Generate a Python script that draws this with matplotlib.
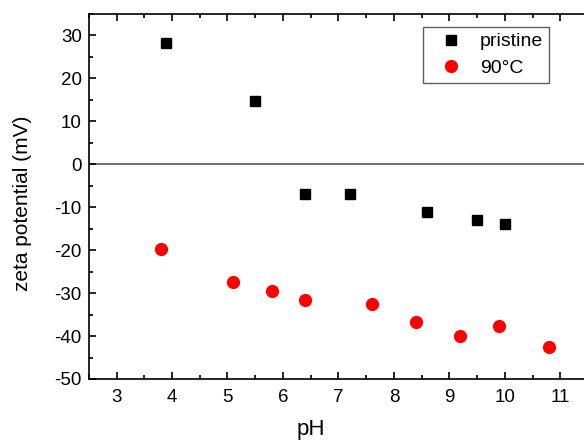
import matplotlib
matplotlib.use('Agg')
import matplotlib.pyplot as plt
from matplotlib.ticker import MultipleLocator

plt.rcParams['font.family'] = ['Liberation Sans', 'DejaVu Sans']
plt.rcParams['axes.unicode_minus'] = False

# pristine sample
ph_pristine = [3.9, 5.5, 6.4, 7.2, 8.6, 9.5, 10.0]
zeta_pristine = [28.1, 14.6, -7.0, -7.0, -11.2, -13.0, -14.0]

# treated at 90 C
ph_90 = [3.8, 5.1, 5.8, 6.4, 7.6, 8.4, 9.2, 9.9, 10.8]
zeta_90 = [-19.8, -27.4, -29.5, -31.6, -32.6, -36.7, -40.0, -37.7, -42.6]

fig = plt.figure(figsize=(5.84, 4.41), dpi=100)
ax = fig.add_axes([0.152, 0.1406, 0.855, 0.828])

ax.axhline(0, color='#555555', lw=1.2, zorder=1)
ax.plot(ph_pristine, zeta_pristine, 's', color='black', ms=7.5, label='pristine', zorder=3)
ax.plot(ph_90, zeta_90, 'o', color='red', ms=8.5, label='90°C', zorder=3)

ax.set_xlim(2.5, 11.5)
ax.set_ylim(-50, 35)
ax.xaxis.set_major_locator(MultipleLocator(1))
ax.xaxis.set_minor_locator(MultipleLocator(0.5))
ax.yaxis.set_major_locator(MultipleLocator(10))
ax.yaxis.set_minor_locator(MultipleLocator(5))
ax.tick_params(which='both', direction='in', top=True, right=False, width=1.2)
ax.tick_params(which='major', length=5, labelsize=13.5)
ax.tick_params(axis='x', which='major', pad=7)
ax.tick_params(axis='y', which='major', pad=5)
ax.tick_params(which='minor', length=3)
for s in ax.spines.values():
    s.set_linewidth(1.2)
ax.spines['right'].set_visible(False)

ax.set_xlabel('pH', fontsize=16)
ax.xaxis.set_label_coords(0.445, -0.11)
ax.set_ylabel('zeta potential (mV)', fontsize=15)
ax.yaxis.set_label_coords(-0.113, 0.482)

leg = ax.legend(loc='upper left', bbox_to_anchor=(0.67, 0.964), borderaxespad=0,
                fontsize=14, frameon=True, fancybox=False, edgecolor='#333333',
                handletextpad=0.4, borderpad=0.3, labelspacing=0.45, handlelength=2.2)
leg.get_frame().set_linewidth(1.0)

fig.savefig('out.png', dpi=100)
